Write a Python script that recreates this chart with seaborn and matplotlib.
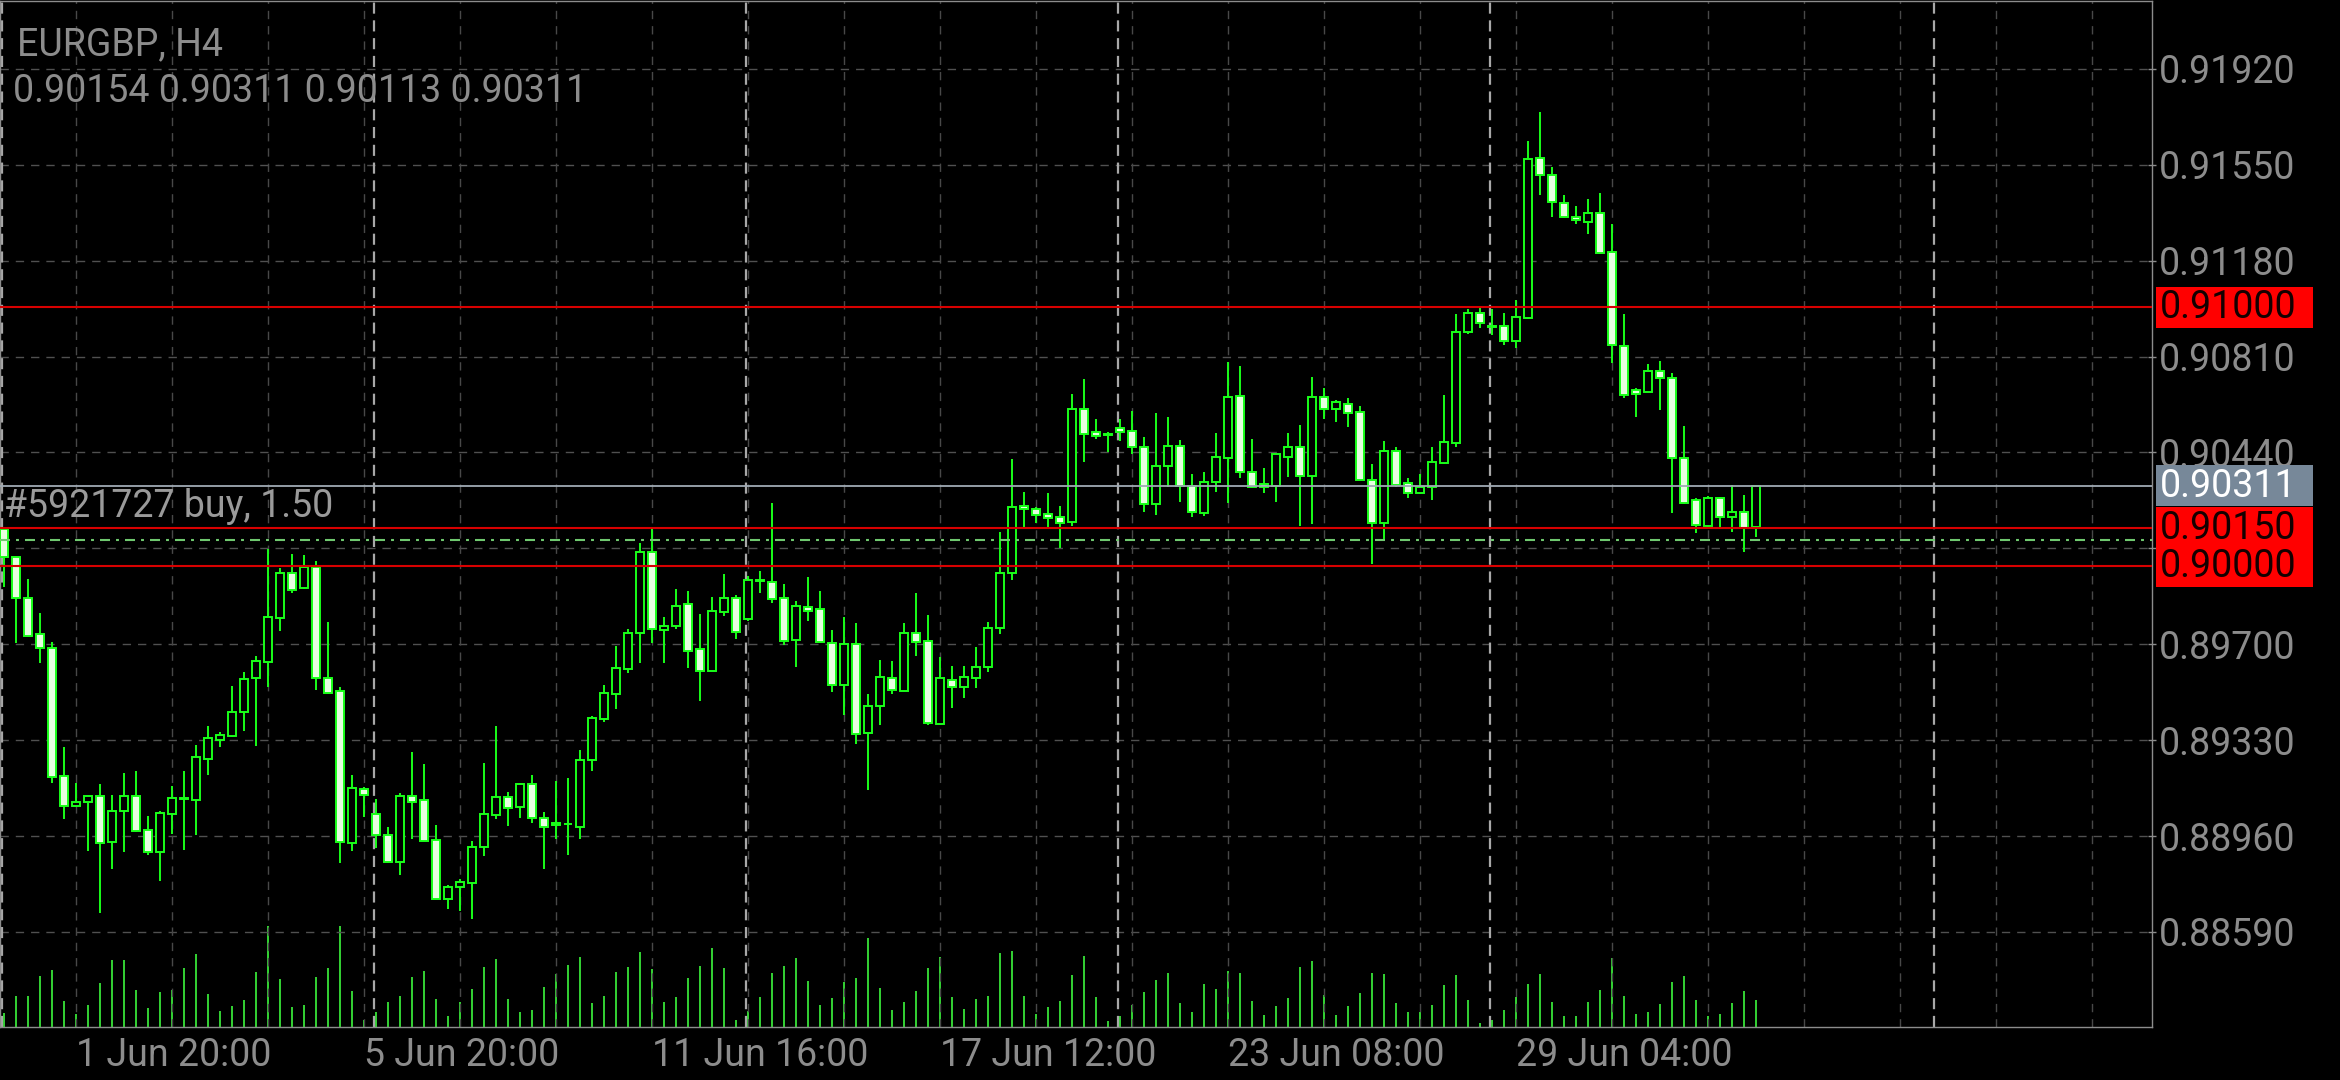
import numpy as np
import pandas as pd
import matplotlib
matplotlib.use("Agg")
import matplotlib.pyplot as plt
from matplotlib.patches import Rectangle
import seaborn as sns

# ── DATA: EURGBP H4, one entry per bar, oldest first ──
opens = [
    0.90145, 0.90037, 0.89879, 0.89738, 0.89684, 0.89193, 0.89076, 0.89091, 0.89115, 0.88936,
    0.89056, 0.89113, 0.88984, 0.88897, 0.89045, 0.89103, 0.89099, 0.89257, 0.89330, 0.89345,
    0.89437, 0.89568, 0.89632, 0.89800, 0.89974, 0.89916, 0.89999, 0.89568, 0.89519, 0.88932,
    0.89142, 0.89045, 0.88964, 0.88858, 0.89114, 0.89098, 0.88944, 0.88717, 0.88762, 0.88777,
    0.88916, 0.89040, 0.89109, 0.89071, 0.89161, 0.89030, 0.89002, 0.89005, 0.88996, 0.89253,
    0.89411, 0.89507, 0.89604, 0.89742, 0.90055, 0.89754, 0.89771, 0.89854, 0.89680, 0.89598,
    0.89825, 0.89879, 0.89796, 0.89943, 0.89941, 0.89877, 0.89716, 0.89845, 0.89835, 0.89706,
    0.89543, 0.89700, 0.89356, 0.89462, 0.89568, 0.89521, 0.89744, 0.89714, 0.89391, 0.89562,
    0.89536, 0.89568, 0.89612, 0.89763, 0.89974, 0.90234, 0.90222, 0.90201, 0.90190, 0.90170,
    0.90606, 0.90518, 0.90509, 0.90534, 0.90523, 0.90462, 0.90240, 0.90389, 0.90466, 0.90312,
    0.90205, 0.90325, 0.90417, 0.90659, 0.90363, 0.90318, 0.90312, 0.90424, 0.90462, 0.90349,
    0.90653, 0.90606, 0.90627, 0.90595, 0.90334, 0.90167, 0.90447, 0.90321, 0.90282, 0.90308,
    0.90398, 0.90478, 0.90904, 0.90977, 0.90928, 0.90929, 0.90870, 0.90958, 0.91575, 0.91511,
    0.91404, 0.91350, 0.91330, 0.91365, 0.91212, 0.90852, 0.90681, 0.90674, 0.90755, 0.90728,
    0.90420, 0.90256, 0.90157, 0.90263, 0.90192, 0.90211, 0.90154,
]
highs = [
    0.90152, 0.90040, 0.89950, 0.89819, 0.89710, 0.89304, 0.89164, 0.89114, 0.89159, 0.89117,
    0.89202, 0.89211, 0.89037, 0.89058, 0.89153, 0.89212, 0.89310, 0.89384, 0.89361, 0.89539,
    0.89594, 0.89656, 0.90066, 0.89993, 0.90047, 0.90044, 0.90021, 0.89787, 0.89536, 0.89194,
    0.89149, 0.89101, 0.88996, 0.89125, 0.89283, 0.89237, 0.89002, 0.88771, 0.88793, 0.88942,
    0.89240, 0.89384, 0.89129, 0.89166, 0.89194, 0.89054, 0.89172, 0.89183, 0.89292, 0.89423,
    0.89543, 0.89693, 0.89758, 0.90092, 0.90145, 0.89806, 0.89913, 0.89905, 0.89817, 0.89883,
    0.89971, 0.89890, 0.89964, 0.89982, 0.90246, 0.89931, 0.89868, 0.89958, 0.89905, 0.89755,
    0.89806, 0.89781, 0.89507, 0.89639, 0.89635, 0.89781, 0.89899, 0.89813, 0.89652, 0.89616,
    0.89616, 0.89688, 0.89786, 0.90132, 0.90415, 0.90286, 0.90231, 0.90282, 0.90234, 0.90666,
    0.90723, 0.90569, 0.90518, 0.90569, 0.90600, 0.90501, 0.90593, 0.90577, 0.90488, 0.90356,
    0.90363, 0.90516, 0.90788, 0.90774, 0.90492, 0.90379, 0.90435, 0.90514, 0.90546, 0.90730,
    0.90688, 0.90641, 0.90649, 0.90619, 0.90394, 0.90484, 0.90462, 0.90343, 0.90357, 0.90462,
    0.90662, 0.90973, 0.90992, 0.90996, 0.90994, 0.90977, 0.91028, 0.91643, 0.91753, 0.91543,
    0.91433, 0.91392, 0.91418, 0.91442, 0.91320, 0.90973, 0.90688, 0.90781, 0.90793, 0.90748,
    0.90542, 0.90265, 0.90272, 0.90269, 0.90314, 0.90276, 0.90311,
]
lows = [
    0.89921, 0.89706, 0.89728, 0.89629, 0.89163, 0.89024, 0.89071, 0.88903, 0.88664, 0.88834,
    0.88899, 0.88977, 0.88887, 0.88787, 0.88968, 0.88906, 0.88964, 0.89195, 0.89304, 0.89343,
    0.89366, 0.89308, 0.89536, 0.89752, 0.89899, 0.89914, 0.89523, 0.89508, 0.88854, 0.88903,
    0.89032, 0.88915, 0.88855, 0.88809, 0.88948, 0.88939, 0.88715, 0.88679, 0.88672, 0.88640,
    0.88884, 0.89025, 0.89000, 0.89030, 0.89011, 0.88831, 0.88947, 0.88887, 0.88948, 0.89212,
    0.89400, 0.89449, 0.89590, 0.89629, 0.89704, 0.89626, 0.89758, 0.89607, 0.89482, 0.89596,
    0.89810, 0.89721, 0.89790, 0.89896, 0.89858, 0.89696, 0.89613, 0.89790, 0.89705, 0.89517,
    0.89427, 0.89315, 0.89137, 0.89388, 0.89507, 0.89519, 0.89656, 0.89388, 0.89388, 0.89455,
    0.89491, 0.89530, 0.89593, 0.89739, 0.89948, 0.90153, 0.90167, 0.90153, 0.90070, 0.90157,
    0.90404, 0.90491, 0.90443, 0.90484, 0.90434, 0.90211, 0.90199, 0.90308, 0.90250, 0.90190,
    0.90196, 0.90289, 0.90246, 0.90340, 0.90302, 0.90285, 0.90250, 0.90346, 0.90157, 0.90163,
    0.90569, 0.90559, 0.90539, 0.90332, 0.90010, 0.90098, 0.90308, 0.90263, 0.90280, 0.90256,
    0.90396, 0.90462, 0.90896, 0.90921, 0.90893, 0.90855, 0.90844, 0.90955, 0.91433, 0.91350,
    0.91344, 0.91322, 0.91283, 0.91207, 0.90786, 0.90649, 0.90576, 0.90672, 0.90604, 0.90205,
    0.90240, 0.90128, 0.90153, 0.90145, 0.90132, 0.90057, 0.90113,
]
closes = [
    0.90037, 0.89877, 0.89733, 0.89684, 0.89186, 0.89076, 0.89091, 0.89114, 0.88934, 0.89058,
    0.89113, 0.88979, 0.88897, 0.89047, 0.89105, 0.89106, 0.89264, 0.89337, 0.89348, 0.89437,
    0.89567, 0.89636, 0.89804, 0.89974, 0.89909, 0.89999, 0.89568, 0.89511, 0.88936, 0.89144,
    0.89117, 0.88964, 0.88858, 0.89114, 0.89091, 0.88941, 0.88717, 0.88764, 0.88784, 0.88916,
    0.89045, 0.89109, 0.89067, 0.89161, 0.89028, 0.88996, 0.89009, 0.89007, 0.89253, 0.89414,
    0.89511, 0.89607, 0.89742, 0.90055, 0.89759, 0.89771, 0.89849, 0.89675, 0.89598, 0.89829,
    0.89877, 0.89748, 0.89948, 0.89946, 0.89874, 0.89714, 0.89849, 0.89829, 0.89707, 0.89543,
    0.89700, 0.89352, 0.89463, 0.89575, 0.89523, 0.89744, 0.89707, 0.89395, 0.89568, 0.89536,
    0.89575, 0.89613, 0.89763, 0.89974, 0.90231, 0.90221, 0.90199, 0.90186, 0.90167, 0.90606,
    0.90511, 0.90505, 0.90511, 0.90520, 0.90460, 0.90240, 0.90389, 0.90466, 0.90312, 0.90209,
    0.90327, 0.90421, 0.90655, 0.90363, 0.90308, 0.90308, 0.90433, 0.90460, 0.90349, 0.90655,
    0.90608, 0.90634, 0.90593, 0.90334, 0.90167, 0.90447, 0.90314, 0.90282, 0.90308, 0.90402,
    0.90481, 0.90906, 0.90977, 0.90938, 0.90925, 0.90870, 0.90962, 0.91571, 0.91511, 0.91408,
    0.91347, 0.91337, 0.91365, 0.91209, 0.90855, 0.90662, 0.90666, 0.90755, 0.90728, 0.90417,
    0.90246, 0.90160, 0.90263, 0.90192, 0.90211, 0.90147, 0.90311,
]
volumes = [
    410, 930, 930, 1530, 1710, 780, 400, 660, 1330, 2010,
    2010, 1110, 570, 1050, 1120, 1770, 2190, 990, 480, 630,
    810, 1650, 3030, 1440, 600, 660, 1500, 1770, 3030, 1080,
    210, 450, 750, 930, 1500, 1680, 840, 330, 750, 1140,
    1800, 2040, 840, 450, 510, 1200, 1590, 1860, 2100, 720,
    930, 1650, 1800, 2250, 1740, 750, 900, 1470, 1830, 2370,
    1770, 210, 480, 900, 1620, 1830, 2070, 1380, 660, 870,
    1350, 1470, 2670, 1170, 510, 750, 1080, 1770, 2100, 900,
    540, 840, 930, 2220, 2280, 930, 390, 600, 780, 1560,
    2130, 900, 180, 330, 660, 1050, 1410, 1620, 720, 450,
    1290, 1140, 1680, 1620, 780, 360, 630, 870, 1800, 1980,
    960, 360, 630, 1020, 1620, 1590, 720, 450, 450, 660,
    1260, 1560, 810, 120, 210, 510, 900, 1290, 1590, 750,
    330, 330, 750, 1110, 2070, 930, 390, 450, 690, 1350,
    1530, 810, 330, 390, 720, 1080, 810,
]

date_ticks = [6, 30, 54, 78, 102, 126]          # bar index of each time label
date_labels = ["1 Jun 20:00", "5 Jun 20:00", "11 Jun 16:00",
               "17 Jun 12:00", "23 Jun 08:00", "29 Jun 04:00"]
week_starts = [0, 31, 62, 93, 124, 161]         # period separators
price_ticks = [0.91920, 0.91550, 0.91180, 0.90810, 0.90440,
               0.90070, 0.89700, 0.89330, 0.88960, 0.88590]
red_levels = [0.91000, 0.90150, 0.90000]
order_price = 0.90102
order_text = "#5921727 buy, 1.50"
title_text = "EURGBP, H4"

# ── STYLE ──
GREEN = "#19ff19"
GREY = "#8c8c8c"
FS = 27
sns.set_theme(style="dark", rc={
    "figure.facecolor": "black", "axes.facecolor": "black",
    "axes.edgecolor": GREY, "axes.linewidth": 1.0,
    "xtick.color": GREY, "ytick.color": GREY,
})
plt.rcParams["font.family"] = ["Roboto", "DejaVu Sans"]

df = pd.DataFrame({"open": opens, "high": highs, "low": lows,
                   "close": closes, "volume": volumes})
df["bar"] = np.arange(len(df))
df["bull"] = df["close"] > df["open"]

W, H = 2340, 1080
fig = plt.figure(figsize=(W / 100, H / 100), dpi=100)
ax = fig.add_axes([0.0, 53 / H, 2152 / W, 1026 / H])
axv = ax.twinx()
ax.set_zorder(axv.get_zorder() + 1)
ax.patch.set_visible(False)

XLIM = (-0.333, 179)
YLIM = (0.88223, 0.92182)

# ── VOLUMES (bottom strip) ──
sns.barplot(data=df, x="bar", y="volume", native_scale=True, width=0.17,
            color="#32cd32", saturation=1, errorbar=None, linewidth=0, ax=axv)
axv.set_ylim(0, 30780)
axv.set_yticks([])
axv.set_ylabel("")
axv.set_xlabel("")

# ── GRID ──
for p in price_ticks:
    ax.axhline(p, color="#505050", lw=1.0, ls=(0, (6, 5)), zorder=1)
for b in np.arange(date_ticks[0] - 8, XLIM[1], 8):
    ax.axvline(b, color="#484848", lw=1.0, ls=(0, (6, 5)), zorder=1)
for b in week_starts:
    ax.axvline(b - 0.2, color="#a8a8a8", lw=1.6, ls=(0, (5, 3)), zorder=1)

# ── CANDLES ──
ax.vlines(df["bar"], df["low"], df["high"], color=GREEN, lw=1.4, zorder=3)
body_lo = np.minimum(df["open"], df["close"])
body_h = np.maximum(np.abs(df["close"] - df["open"]), 0.00003)
ax.bar(df["bar"], body_h, bottom=body_lo, width=0.6,
       color=np.where(df["bull"], "black", "#e6ffe0"),
       edgecolor=GREEN, linewidth=1.4, zorder=4)

# ── LEVEL LINES ──
bid = closes[-1]
for p in red_levels:
    ax.axhline(p, color="#d80000", lw=1.5, zorder=6)
ax.axhline(bid, color="#a0aab4", lw=1.3, zorder=6)
ax.axhline(order_price, color="#6fc86f", lw=1.5, ls=(0, (4.8, 2.9, 1.4, 2.9)), zorder=6)
ax.annotate(order_text, xy=(0, order_price), xycoords=("axes fraction", "data"),
            xytext=(4, 23), textcoords="offset pixels", va="baseline", ha="left",
            fontsize=FS, color="#9a9a9a", zorder=7)

# ── AXES ──
ax.set_xlim(*XLIM)
ax.set_ylim(*YLIM)
ax.yaxis.tick_right()
ax.set_yticks(price_ticks)
ax.set_yticklabels([f"{p:.5f}" for p in price_ticks])
ax.tick_params(axis="y", labelsize=FS, labelcolor=GREY, length=6,
               direction="inout", pad=2, width=1)
ax.set_xticks(date_ticks)
ax.set_xticklabels(date_labels, ha="left")
ax.tick_params(axis="x", labelsize=FS, labelcolor=GREY, length=3.5,
               direction="out", pad=4, width=1)
ax.set_xlabel("")
ax.set_ylabel("")
for s in ax.spines.values():
    s.set_color(GREY)
    s.set_linewidth(1.0)
for s in axv.spines.values():
    s.set_visible(False)

# price tags on the right scale
px_h = (YLIM[1] - YLIM[0]) / 1026          # price per pixel
tags = [(bid, "#778899", "white")] + [(p, "#ff0000", "#140000") for p in red_levels]
for p, fc, tc in tags:
    ax.add_patch(Rectangle((1 + 4 / 2152, p - 20.5 * px_h), 157 / 2152, 41 * px_h,
                           transform=ax.get_yaxis_transform(), facecolor=fc,
                           edgecolor="none", clip_on=False, zorder=8))
    ax.annotate(f"{p:.5f}", xy=(1, p), xycoords=("axes fraction", "data"),
                xytext=(8, -11), textcoords="offset pixels", va="baseline",
                ha="left", fontsize=FS, color=tc, annotation_clip=False, zorder=9)

# ── HEADER ──
fig.text(17 / W, 1 - 55 / H, title_text, fontsize=FS, color=GREY, va="baseline")
ohlc = f"{opens[-1]:.5f} {highs[-1]:.5f} {lows[-1]:.5f} {closes[-1]:.5f}"
fig.text(13 / W, 1 - 102 / H, ohlc, fontsize=FS, color=GREY, va="baseline")

fig.savefig("out.png", dpi=100, facecolor="black")
